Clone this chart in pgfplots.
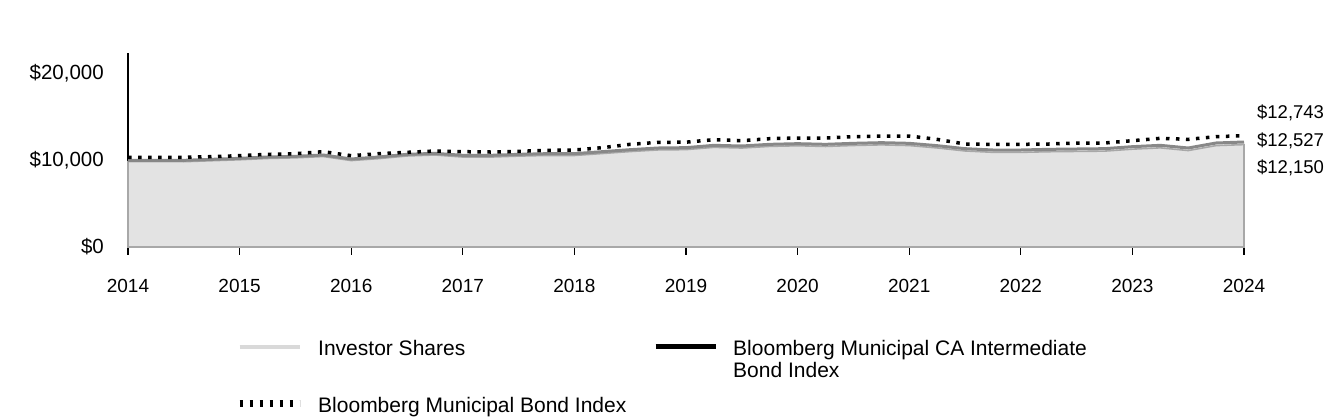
\documentclass[border=0pt]{standalone}
\usepackage{fontspec}
\setmainfont{Liberation Sans}
\usepackage{pgfplots}
\usepackage{pgfplotstable}
\pgfplotsset{compat=1.18}
\definecolor{areagray}{HTML}{E3E3E3}
\definecolor{invgray}{HTML}{A8A8A8}
\definecolor{cagray}{HTML}{888888}
\definecolor{leggray}{HTML}{D9D9D9}
\pgfplotstableread{
x inv ca muni
2014.00 9812 9962 10307
2014.25 9808 9962 10307
2014.50 9805 9962 10307
2014.75 9916 10077 10383
2015.00 10027 10192 10498
2015.25 10176 10345 10651
2015.50 10250 10422 10728
2015.75 10399 10575 10958
2016.00 9935 10115 10498
2016.25 10161 10345 10728
2016.50 10463 10651 10881
2016.75 10575 10766 11034
2017.00 10341 10536 10958
2017.25 10337 10536 10919
2017.50 10448 10651 10996
2017.75 10522 10728 11111
2018.00 10518 10728 11149
2018.25 10744 10958 11418
2018.50 10970 11187 11801
2018.75 11158 11379 12031
2019.00 11193 11418 12050
2019.25 11457 11686 12337
2019.50 11377 11609 12222
2019.75 11565 11801 12452
2020.00 11637 11877 12529
2020.25 11557 11801 12529
2020.50 11668 11916 12682
2020.75 11741 11992 12758
2021.00 11661 11916 12758
2021.25 11388 11647 12375
2021.50 11040 11302 11839
2021.75 10883 11149 11801
2022.00 10879 11149 11801
2022.25 10952 11226 11839
2022.50 10987 11264 11954
2022.75 11021 11302 11954
2023.00 11247 11532 12222
2023.25 11397 11686 12490
2023.50 11086 11379 12375
2023.75 11658 11954 12682
2024.00 11769 12069 12797
}\data
\begin{document}
\begin{tikzpicture}
\path[use as bounding box] (0,0) rectangle (1344bp,420bp);
\begin{axis}[
  at={(128bp,173bp)}, anchor=south west,
  scale only axis, width=1116bp, height=194bp,
  xmin=2014, xmax=2024, ymin=0, ymax=22300,
  clip=false,
  axis x line=bottom, axis y line=left,
  axis line style={line width=1.3bp, -, black},
  /pgf/number format/assume math mode=true,
  scaled y ticks=false,
  xtick={2014,2015,2016,2017,2018,2019,2020,2021,2022,2023,2024},
  xticklabels={2014,2015,2016,2017,2018,2019,2020,2021,2022,2023,2024},
  ytick={0,10000,20000},
  yticklabels={{\$0},{\$10,000},{\$20,000}},
  x tick style={black, line width=1.3bp},
  xtick align=outside,
  major tick length=8bp,
  ytick style={draw=none},
  yticklabel style={anchor=east, inner sep=0pt, xshift=-20bp, font=\fontsize{20.5bp}{24bp}\selectfont},
  xticklabel style={anchor=north, inner sep=0pt, yshift=-24bp, font=\fontsize{19bp}{22bp}\selectfont},
  legend columns=2,
  legend cell align=left,
  legend style={draw=none, fill=none, at={(axis description cs:0.0968,-0.479)}, anchor=north west,
    inner sep=0pt, row sep=40bp, nodes={inner sep=0pt}, font=\fontsize{21bp}{22bp}\selectfont,
    /tikz/every odd column/.style={column sep=15bp},
    /tikz/every even column/.style={column sep=15bp}},
  legend image code/.code={\draw[#1] (0bp,2bp) -- (60bp,2bp);},
]
\addplot[fill=areagray, draw=invgray, line width=1.6bp, forget plot] table[x=x,y=inv] {\data} \closedcycle;
\addplot[cagray, line width=3bp, forget plot] table[x=x,y=ca] {\data};
\addplot[black, line width=3.5bp, dash pattern=on 3.5bp off 6.5bp, forget plot] table[x=x,y=muni] {\data};
\addlegendimage{leggray, line width=4bp}
\addlegendentry{\makebox[320bp][l]{Investor Shares}}
\addlegendimage{black, line width=5bp}
\addlegendentry{\begin{tabular}[t]{@{}l@{}}Bloomberg Municipal CA Intermediate\\Bond Index\end{tabular}}
\addlegendimage{black, line width=7bp, dash pattern=on 3.5bp off 6.5bp}
\addlegendentry{Bloomberg Municipal Bond Index}
\node[anchor=west, inner sep=0pt, font=\fontsize{18.5bp}{22bp}\selectfont] at (axis description cs:1.0116,0.693) {\$12,743};
\node[anchor=west, inner sep=0pt, font=\fontsize{18.5bp}{22bp}\selectfont] at (axis description cs:1.0116,0.549) {\$12,527};
\node[anchor=west, inner sep=0pt, font=\fontsize{18.5bp}{22bp}\selectfont] at (axis description cs:1.0116,0.406) {\$12,150};
\end{axis}
\end{tikzpicture}
\end{document}
